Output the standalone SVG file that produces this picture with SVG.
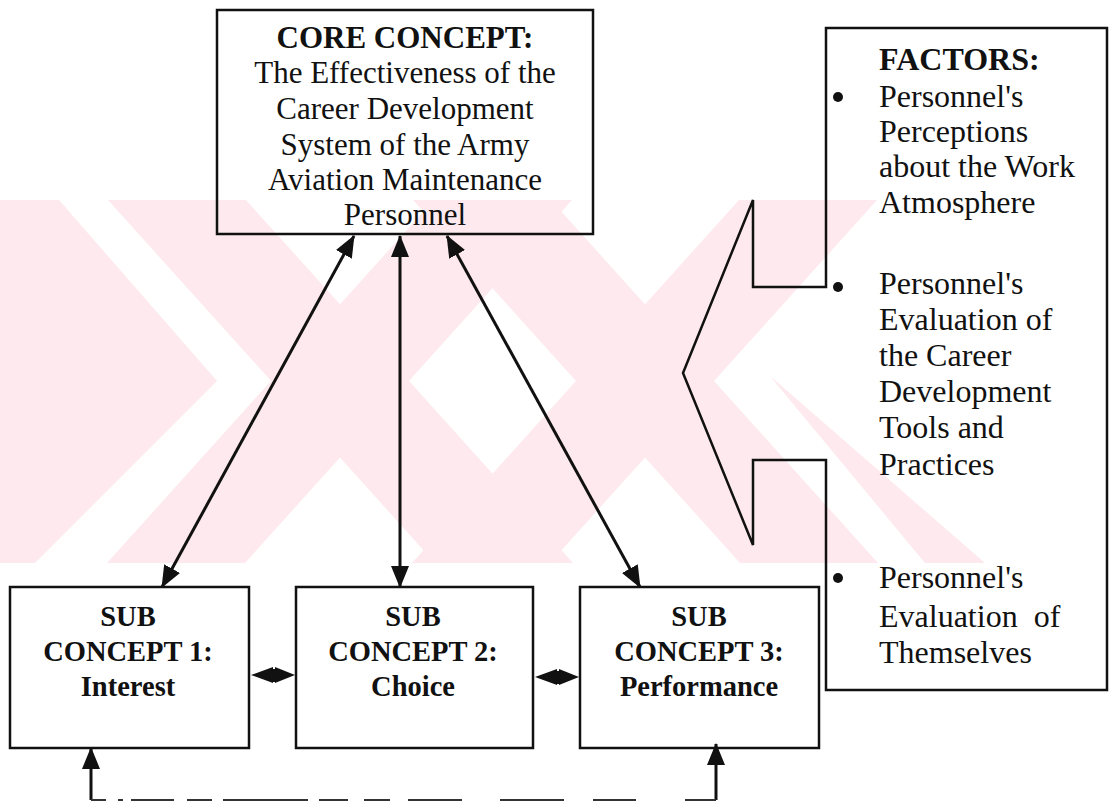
<svg xmlns="http://www.w3.org/2000/svg" width="1109" height="802" viewBox="0 0 1109 802">
  <defs>
    <style>
      .box { fill: none; stroke: #111111; stroke-width: 2.5; }
      .conn { fill: none; stroke: #111111; stroke-width: 3; }
      .faint { fill: none; stroke: #333333; stroke-width: 2.2; }
      .tip { fill: #111111; stroke: none; }
      .txt { font-family: "Liberation Serif", "Times New Roman", serif; fill: #111111; }
      .core { font-size: 31px; }
      .fac { font-size: 32px; }
      .bold { font-weight: bold; }
      .sub { font-size: 28.5px; font-weight: bold; }
      .mark { fill: #fde9ee; }
    </style>
    <marker id="head" viewBox="0 0 22 18" refX="21" refY="9" markerWidth="22" markerHeight="18" markerUnits="userSpaceOnUse" orient="auto-start-reverse">
      <path d="M0,0 L22,9 L0,18 z" fill="#111111"/>
    </marker>
  </defs>

  <rect width="1109" height="802" fill="#ffffff"/>

  <!-- faint background emblem: diagonal bands -->
  <g id="watermark">
    <polygon class="mark" points="0,200 59,200 217,381 35,563 0,563"/>
    <polygon class="mark" points="108,200 246,200 573,563 435,563"/>
    <polygon class="mark" points="434,200 572,200 245,563 107,563"/>
    <polygon class="mark" points="413,200 551,200 878,563 740,563"/>
    <polygon class="mark" points="739,200 877,200 550,563 412,563"/>
    <polygon class="mark" points="770,376 985,563 925,563"/>
  </g>

  <!-- connectors -->
  <g id="connectors">
    <line class="conn" x1="354" y1="236" x2="162" y2="587" marker-start="url(#head)" marker-end="url(#head)"/>
    <line class="conn" x1="400" y1="236" x2="400" y2="587" stroke-width="2.5" marker-start="url(#head)" marker-end="url(#head)"/>
    <line class="conn" x1="447" y1="236" x2="640" y2="587" marker-start="url(#head)" marker-end="url(#head)"/>

    <!-- short two-way links between the sub concepts -->
    <polygon class="tip" points="251,675 273,667 273,683"/>
    <polygon class="tip" points="295,675 275,667 275,683"/>
    <line class="conn" x1="274" y1="669" x2="274" y2="682" stroke-width="1.5"/>
    <polygon class="tip" points="535,677 557,669 557,685"/>
    <polygon class="tip" points="579,677 559,669 559,685"/>
    <line class="conn" x1="558" y1="671" x2="558" y2="684" stroke-width="1.5"/>

    <!-- feedback loop along the bottom -->
    <line class="conn" x1="91" y1="800" x2="91" y2="748" stroke-width="2.5" marker-end="url(#head)"/>
    <line class="conn" x1="716" y1="800" x2="716" y2="744" stroke-width="2.5" marker-end="url(#head)"/>
    <path class="faint" d="M91,800 H106 M118,800 H123 M131,800 H174 M187,800 H212 M223,800 H308 M319,800 H348 M364,800 H390 M408,800 H462 M500,800 H564 M593,800 H636 M685,800 H716"/>
  </g>

  <!-- core concept -->
  <g id="core">
    <rect class="box" x="217" y="10" width="376" height="224"/>
    <g class="txt core" text-anchor="middle">
      <text x="405" y="48" class="bold">CORE CONCEPT:</text>
      <text x="405" y="83">The Effectiveness of the</text>
      <text x="405" y="119">Career Development</text>
      <text x="405" y="155">System of the Army</text>
      <text x="405" y="190">Aviation Maintenance</text>
      <text x="405" y="225">Personnel</text>
    </g>
  </g>

  <!-- sub concept 1 -->
  <g id="sub1">
    <rect class="box" x="10" y="587" width="239" height="161"/>
    <g class="txt sub" text-anchor="middle">
      <text x="128" y="626">SUB</text>
      <text x="128" y="661">CONCEPT 1:</text>
      <text x="128" y="696">Interest</text>
    </g>
  </g>

  <!-- sub concept 2 -->
  <g id="sub2">
    <rect class="box" x="296" y="587" width="237" height="161"/>
    <g class="txt sub" text-anchor="middle">
      <text x="413" y="626">SUB</text>
      <text x="413" y="661">CONCEPT 2:</text>
      <text x="413" y="696">Choice</text>
    </g>
  </g>

  <!-- sub concept 3 -->
  <g id="sub3">
    <rect class="box" x="580" y="587" width="239" height="161"/>
    <g class="txt sub" text-anchor="middle">
      <text x="699" y="626">SUB</text>
      <text x="699" y="661">CONCEPT 3:</text>
      <text x="699" y="696">Performance</text>
    </g>
  </g>

  <!-- factors callout -->
  <g id="factors">
    <path class="box" d="M826,28 H1107 V690 H826 V460 H753 V545 L683,373 L753,200 V287 H826 Z"/>
    <g class="txt fac">
      <text x="879" y="70" class="bold">FACTORS:</text>
      <circle class="tip" cx="838" cy="97" r="5"/>
      <text x="879" y="107">Personnel's</text>
      <text x="879" y="142">Perceptions</text>
      <text x="879" y="177">about the Work</text>
      <text x="879" y="213">Atmosphere</text>
      <circle class="tip" cx="838" cy="287" r="5"/>
      <text x="879" y="294">Personnel's</text>
      <text x="879" y="330">Evaluation of</text>
      <text x="879" y="366">the Career</text>
      <text x="879" y="402">Development</text>
      <text x="879" y="438">Tools and</text>
      <text x="879" y="475">Practices</text>
      <circle class="tip" cx="838" cy="578" r="5"/>
      <text x="879" y="588">Personnel's</text>
      <text x="879" y="627" word-spacing="8">Evaluation of</text>
      <text x="879" y="663">Themselves</text>
    </g>
  </g>
</svg>
